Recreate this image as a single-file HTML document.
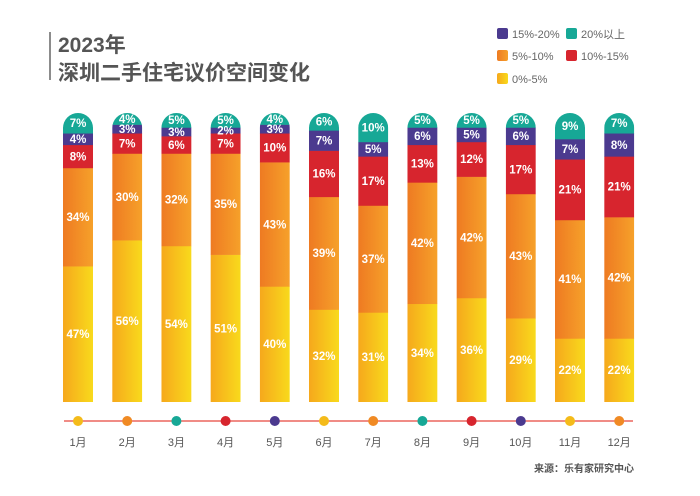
<!DOCTYPE html>
<html><head><meta charset="utf-8"><style>
html,body{margin:0;padding:0;background:#fff;}
svg{display:block;font-family:"Liberation Sans","Noto Sans CJK SC",sans-serif;}
</style></head><body>
<svg width="700" height="496" viewBox="0 0 700 496">
<defs>
<linearGradient id="gY" x1="0" x2="1"><stop offset="0" stop-color="#f6a81c"/><stop offset="1" stop-color="#f8da1c"/></linearGradient>
<linearGradient id="gO" x1="0" x2="1"><stop offset="0" stop-color="#ee7a22"/><stop offset="1" stop-color="#f6a12a"/></linearGradient>
</defs>
<line x1="50" y1="32" x2="50" y2="80" stroke="#666" stroke-width="1.5"/>
<text x="58" y="52" font-size="21" font-weight="bold" fill="#555">2023年</text>
<text x="58" y="80" font-size="21" font-weight="bold" fill="#555">深圳二手住宅议价空间变化</text>
<g id="legend"></g>
<g id="bars"></g>
<line x1="64" y1="421" x2="633" y2="421" stroke="#e8473f" stroke-width="1.2"/>
<g id="xaxis"></g>
<text x="634" y="472" font-size="10" font-weight="bold" fill="#555" text-anchor="end">来源：乐有家研究中心</text>
</svg>
<script>
const months=["1月","2月","3月","4月","5月","6月","7月","8月","9月","10月","11月","12月"];
const s0to5=[47,56,54,51,40,32,31,34,36,29,22,22];
const s5to10=[34,30,32,35,43,39,37,42,42,43,41,42];
const s10to15=[8,7,6,7,10,16,17,13,12,17,21,21];
const s15to20=[4,3,3,2,3,7,5,6,5,6,7,8];
const s20plus=[7,4,5,5,4,6,10,5,5,5,9,7];
const seriesNames=["0%-5%","5%-10%","10%-15%","15%-20%","20%以上"];
const dotColors=["#f4bb1a","#f08a24","#17a896","#d7252e","#4b3a8f"];
const NS="http://www.w3.org/2000/svg";
const fills=["url(#gY)","url(#gO)","#d7252e","#4b3a8f","#17a896"];
const series=[s0to5,s5to10,s10to15,s15to20,s20plus];
const x0=78,step=49.2,bw=30,yBot=402,yTop=113;
const xs=i=>x0+i*step;
const ys=v=>yBot-(v/100)*(yBot-yTop);
function mk(t,a,p){const e=document.createElementNS(NS,t);for(const k in a)e.setAttribute(k,a[k]);p.appendChild(e);return e;}
const bars=document.getElementById('bars');
const defs=document.querySelector('defs');
months.forEach((m,i)=>{
  const cx=xs(i),left=cx-bw/2,r=bw/2;
  const cp=mk('clipPath',{id:'c'+i},defs);
  mk('path',{d:`M${left},${yBot}V${yTop+r}A${r},${r} 0 0 1 ${left+bw},${yTop+r}V${yBot}Z`},cp);
  const g=mk('g',{'clip-path':`url(#c${i})`},bars);
  
  
  let cum=0;
  series.forEach((s,k)=>{
    const v=s[i];const y1=ys(cum),y2=ys(cum+v);
    const r2=mk('rect',{x:left,y:y2,width:bw,height:y1-y2+0.3,fill:fills[k]},g);
    
    
    const t=mk('text',{x:cx,y:(y1+y2)/2+4,'font-size':11.5,'font-weight':'bold',fill:'#fff','text-anchor':'middle'},bars);
    t.textContent=v+'%';
    
    
    cum+=v;
  });
});
const xa=document.getElementById('xaxis');
months.forEach((m,i)=>{
  const c=mk('circle',{cx:xs(i),cy:421,r:5,fill:dotColors[i%5]},xa);
  
  
  const t=mk('text',{x:xs(i),y:446,'font-size':11,fill:'#555','text-anchor':'middle'},xa);
  t.textContent=m;
  
  
});
const lg=document.getElementById('legend');
const lpos=[[497,79],[497,56],[566,56],[497,34],[566,34]];
[0,1,2,3,4].forEach(k=>{
  const [x,y]=lpos[k];
  const r=mk('rect',{x:x,y:y-6,width:11,height:11,rx:2,fill:fills[k]},lg);
  
  
  const t=mk('text',{x:x+15,y:y+4,'font-size':11,fill:'#666'},lg);
  t.textContent=seriesNames[k];
  
  
});
</script>
</body></html>
